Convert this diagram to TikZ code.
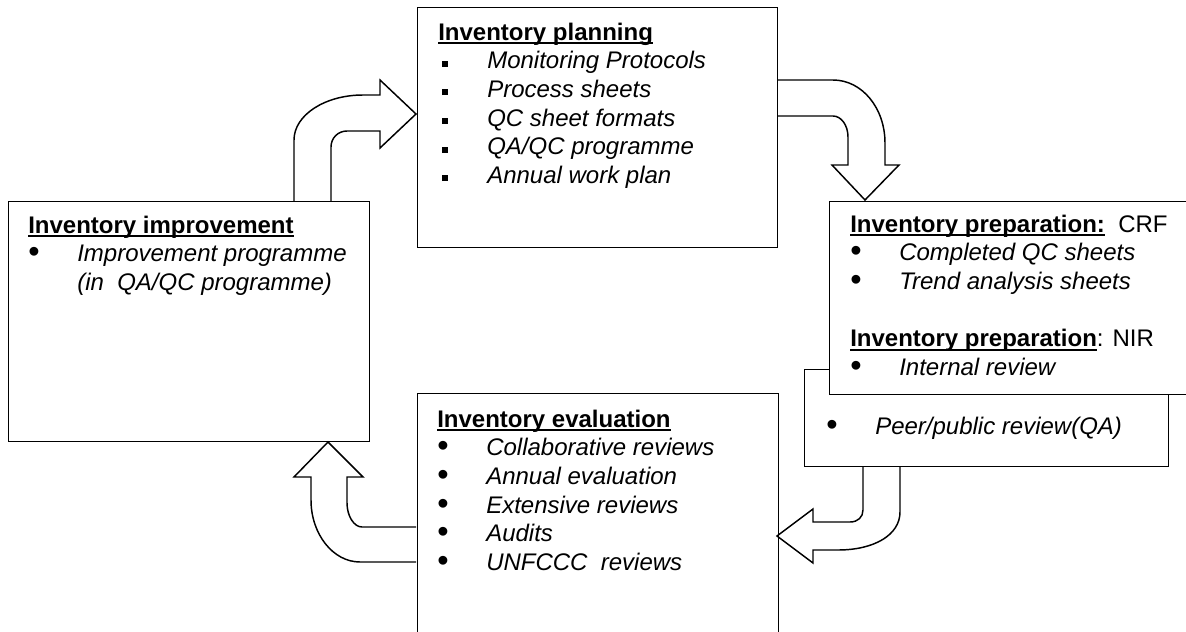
\documentclass[tikz,border=0pt]{standalone}
\usepackage{fontspec}
\setmainfont{Liberation Sans}
\usetikzlibrary{calc}
\def\dotitem{\makebox[36.75pt][l]{\smash{\raisebox{-0.9pt}{\scalebox{1.35}{\textbullet}}}}}
\def\sqitem{\makebox[36.75pt][l]{\hspace{3pt}\rule[1.6pt]{4.5pt}{4.5pt}}}
\def\ulhead#1{\setbox0\hbox{\bfseries #1}\rlap{\rule[-3pt]{\wd0}{1.5pt}}\box0}

\begin{document}
\begin{tikzpicture}[x=0.75pt, y=-0.75pt,
	box/.style={draw, line width=1.1pt, fill=white, inner sep=0pt, anchor=north west},
	txt/.style={inner sep=0pt, anchor=base west, font=\fontsize{18pt}{21.5pt}\selectfont},
	blockarrow/.style={line width=1.1pt, line join=miter}]
			%%%%% START %%%%%
			\useasboundingbox (0,0) rectangle (1186,632);
			\clip (0,0) rectangle (1186,632);
			
			% boxes
			\node[box, minimum width=270pt, minimum height=180pt] (plan) at (417,7) {};
			\node[box, minimum width=270.75pt, minimum height=180pt] (impr) at (8,201) {};
			\node[box, minimum width=273pt, minimum height=72.75pt] (peer) at (804,369) {};
			\node[box, minimum width=300pt, minimum height=144.75pt] (prep) at (829,201) {};
			\node[box, minimum width=270.75pt, minimum height=195pt] (eval) at (417,393) {};
			
			% texts
			\node[txt] (plantxt) at ($(plan.north west)+(21,33)$) {\begin{tabular}[t]{@{}l@{}}
				\ulhead{Inventory planning}\\
				\sqitem\textit{Monitoring Protocols}\\
				\sqitem\textit{Process sheets}\\
				\sqitem\textit{QC sheet formats}\\
				\sqitem\textit{QA/QC programme}\\
				\sqitem\textit{Annual work plan}
			\end{tabular}};
			
			\node[txt] (imprtxt) at ($(impr.north west)+(20,32)$) {\begin{tabular}[t]{@{}l@{}}
				\ulhead{Inventory improvement}\\
				\dotitem\textit{Improvement programme}\\
				\hspace{36.75pt}\textit{(in\ \ QA/QC programme)}
			\end{tabular}};
			
			\node[txt] (preptxt) at ($(prep.north west)+(21,31)$) {\begin{tabular}[t]{@{}l@{}}
				\ulhead{Inventory preparation:}\ \ CRF\\
				\dotitem\textit{Completed QC sheets}\\
				\dotitem\textit{Trend analysis sheets}\\
				\\
				\ulhead{Inventory preparation}: NIR\\
				\dotitem\textit{Internal review}
			\end{tabular}};
			
			\node[txt] (peertxt) at ($(peer.north west)+(22,65)$) {\dotitem\textit{Peer/public review(QA)}};
			
			\node[txt] (evaltxt) at ($(eval.north west)+(20,34)$) {\begin{tabular}[t]{@{}l@{}}
				\ulhead{Inventory evaluation}\\
				\dotitem\textit{Collaborative reviews}\\
				\dotitem\textit{Annual evaluation}\\
				\dotitem\textit{Extensive reviews}\\
				\dotitem\textit{Audits}\\
				\dotitem\textit{UNFCCC\ \ reviews}
			\end{tabular}};
			
			% block arrows
			\draw[blockarrow] (294,201) -- (294,140) .. controls (294,115) and (325,95) .. (363,95)
				-- (380,95) -- (380,80) -- (416,114) -- (380,148) -- (380,131) -- (347,131)
				.. controls (338,131) and (331,138) .. (331,147) -- (331,201);
			
			\draw[blockarrow] (777,80) -- (833,80) .. controls (862,80) and (885,108) .. (885,143)
				-- (885,165) -- (899,165) -- (865,200) -- (832,165) -- (848,165) -- (848,137)
				.. controls (848,125) and (841,116) .. (833,116) -- (777,116);
			
			\draw[blockarrow] (863,466) -- (863,510) .. controls (863,517) and (858,522) .. (850,522)
				-- (813,522) -- (813,509) -- (777,536) -- (813,563) -- (813,550) -- (838,550)
				.. controls (874,550) and (900,535) .. (900,512) -- (900,466);
			
			\draw[blockarrow] (416,527) -- (362,527) .. controls (354,527) and (347,516) .. (347,503)
				-- (347,477) -- (363,477) -- (328,442) -- (294,477) -- (311,477) -- (311,500)
				.. controls (311,534) and (333,562) .. (360,562) -- (416,562);
			
			%%%%% END %%%%%
\end{tikzpicture}
\end{document}
